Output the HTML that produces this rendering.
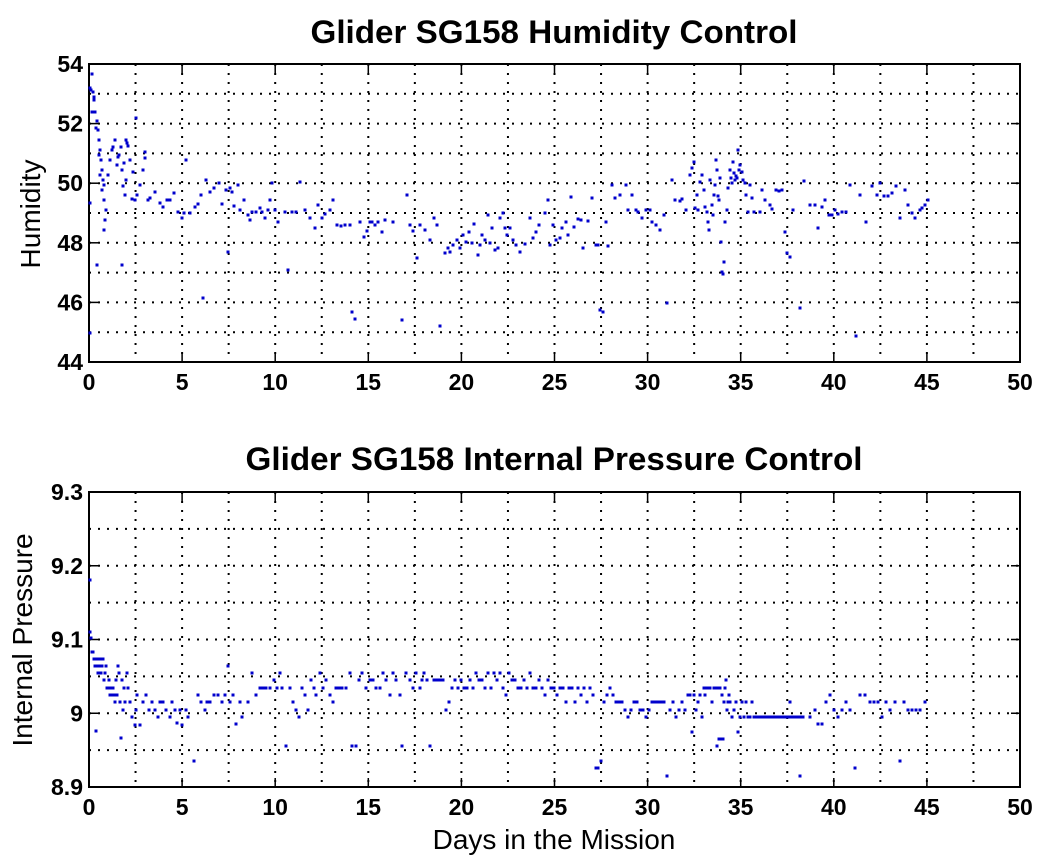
<!DOCTYPE html>
<html><head><meta charset="utf-8"><style>
html,body{margin:0;padding:0;background:#fff;}
svg{display:block;font-family:"Liberation Sans",Arial,sans-serif;}
</style></head><body>
<svg id="s" width="1041" height="862" viewBox="0 0 1041 862" xmlns="http://www.w3.org/2000/svg">
<rect width="1041" height="862" fill="#fff"/>
<g id="g"></g>
<text x="554" y="43" font-size="32" font-weight="bold" text-anchor="middle" textLength="487" lengthAdjust="spacingAndGlyphs">Glider SG158 Humidity Control</text>
<text x="554" y="470" font-size="32" font-weight="bold" text-anchor="middle" textLength="617" lengthAdjust="spacingAndGlyphs">Glider SG158 Internal Pressure Control</text>
<text transform="translate(40,214) rotate(-90)" font-size="28" text-anchor="middle">Humidity</text>
<text transform="translate(32,640) rotate(-90)" font-size="28" text-anchor="middle">Internal Pressure</text>
<text x="554" y="849" font-size="28" text-anchor="middle">Days in the Mission</text>
</svg>
<script>
var g=document.getElementById('g'),NS='http://www.w3.org/2000/svg';
function el(t,a,txt){var e=document.createElementNS(NS,t);for(var k in a)e.setAttribute(k,a[k]);if(txt!==undefined)e.textContent=txt;g.appendChild(e);return e;}
var L=89,R=1020;
function axes(T,B,ylabels,nMinor){
  var H=B-T,W=R-L;
  for(var i=1;i<20;i++){var x=L+W*i/20;el('line',{x1:x,y1:T,x2:x,y2:B,stroke:'#000','stroke-width':2,'stroke-dasharray':'2,7'});}
  for(var j=1;j<nMinor;j++){var y=T+H*j/nMinor;el('line',{x1:L,y1:y,x2:R,y2:y,stroke:'#000','stroke-width':2,'stroke-dasharray':'2,7'});}
  el('rect',{x:L,y:T,width:W,height:H,fill:'none',stroke:'#000','stroke-width':2});
  for(var i=0;i<=10;i++){var x=L+W*i/10;
    el('line',{x1:x,y1:B,x2:x,y2:B-9,stroke:'#000','stroke-width':1.5});
    el('line',{x1:x,y1:T,x2:x,y2:T+9,stroke:'#000','stroke-width':1.5});
    el('text',{x:x,y:B+28,'font-size':23,'font-weight':'bold','text-anchor':'middle'},String(i*5));}
  var n=ylabels.length-1;
  for(var j=0;j<=n;j++){var y=B-H*j/n;
    el('line',{x1:L,y1:y,x2:L+9,y2:y,stroke:'#000','stroke-width':1.5});
    el('line',{x1:R,y1:y,x2:R-9,y2:y,stroke:'#000','stroke-width':1.5});
    el('text',{x:L-6,y:y+8,'font-size':23,'font-weight':'bold','text-anchor':'end'},ylabels[j]);}
}
axes(64,362,['44','46','48','50','52','54'],10);
axes(492,787,['8.9','9','9.1','9.2','9.3'],8);
var top1=[[90,88],[91,90],[92,74],[93,92],[94,97],[95,112],[96,128],[97,121],[92,112],[94,100],[98,130],[99,140],[100,150],[99,155],[101,160],[102,170],[100,175],[103,180],[104,185],[102,190],[104,200],[106,210],[105,220],[104,230],[97,265],[90,203],[90,333],[108,175],[110,160],[112,150],[113,147],[115,140],[117,165],[118,157],[119,155],[121,147],[122,170],[123,186],[124,163],[125,195],[126,180],[127,143],[128,146],[130,160],[133,172],[135,200],[137,195],[132,199],[140,185],[143,170],[145,152],[148,200],[150,198],[136,118],[126,140],[122,265],[145,158],[155,192],[160,203],[163,207],[167,200],[170,200],[174,193],[178,212],[182,218],[184,213],[186,160],[190,213],[195,207],[198,204],[201,195],[203,298],[206,180],[210,192],[214,188],[219,183],[222,204],[226,190],[228,252],[230,188],[232,192],[234,206],[238,185],[240,210],[244,200],[248,215],[250,220],[252,212],[256,212],[260,208],[262,212],[265,218],[268,210],[270,200],[272,183],[275,210],[278,222],[285,212],[288,270],[292,212],[296,212],[300,182],[305,210],[310,218],[315,228],[318,205],[322,218],[325,214],[330,210],[333,200],[337,225],[341,226],[345,225],[350,225],[352,312],[355,319],[360,222],[364,237],[367,231],[370,222],[372,222],[375,225],[378,222],[382,232],[385,220],[393,222],[402,320],[407,195],[410,225],[413,231],[417,258],[420,225],[425,230],[430,240],[434,218],[437,225],[440,326],[445,253],[448,248],[450,252],[453,245],[457,240],[460,248],[463,235],[466,242],[469,232],[472,243],[474,224],[478,255],[480,245],[482,235],[485,240],[488,215],[490,243],[492,228],[495,250],[498,248],[500,218],[503,213],[505,228],[507,235],[510,228],[513,240],[516,245],[520,252],[525,244],[530,218],[533,238],[536,232],[539,225],[545,213],[548,200],[550,245],[553,225],[556,240],[560,238],[562,228],[566,222],[568,235],[571,197],[574,227],[578,219],[581,220],[583,248],[588,221],[592,198],[596,245],[598,245],[600,310],[603,312],[606,222],[608,246],[612,185],[615,198],[620,195],[626,185],[628,210],[632,195],[636,210],[638,212],[642,218],[646,210],[650,210],[652,222],[656,225],[660,230],[664,215],[667,303],[672,180],[675,200],[680,201],[682,199],[686,210],[690,175],[692,168],[694,162],[695,208],[697,195],[698,210],[700,182],[702,175],[704,190],[705,207],[707,212],[708,222],[709,230],[710,180],[712,205],[713,215],[714,195],[715,185],[716,160],[717,170],[718,196],[719,200],[720,178],[721,242],[722,272],[723,274],[724,262],[725,222],[727,210],[728,188],[730,170],[731,178],[732,183],[733,162],[734,173],[735,180],[736,176],[737,178],[738,150],[739,170],[740,165],[742,172],[743,180],[745,183],[746,195],[748,212],[750,185],[752,198],[754,212],[760,212],[762,190],[765,200],[770,205],[772,209],[776,190],[779,191],[782,190],[785,232],[787,253],[790,257],[793,210],[800,308],[804,181],[810,205],[815,205],[818,228],[822,207],[825,200],[829,215],[832,215],[835,210],[838,214],[842,212],[846,212],[850,185],[856,336],[860,195],[866,222],[872,186],[877,195],[880,183],[884,196],[888,196],[892,193],[896,186],[900,218],[905,190],[908,205],[912,213],[915,218],[920,210],[922,208],[925,205],[928,200]];
var bot=[[90,580],[90,632],[91,638],[92,652],[93,652],[94,659],[95,666],[96,666],[97,659],[98,673],[99,666],[100,659],[101,673],[102,666],[103,659],[104,680],[105,673],[106,666],[96,731],[107,688],[108,688],[109,680],[110,695],[111,688],[112,695],[113,688],[114,695],[115,702],[116,680],[117,695],[118,666],[119,673],[120,702],[121,738],[122,680],[123,710],[124,688],[125,702],[127,673],[128,688],[130,702],[132,717],[135,725],[136,710],[137,695],[140,725],[143,702],[146,695],[149,710],[152,702],[155,710],[158,717],[160,702],[163,702],[166,710],[170,717],[172,702],[175,710],[177,723],[180,710],[182,725],[186,710],[188,717],[194,761],[198,695],[201,702],[205,710],[207,702],[210,702],[214,695],[218,695],[222,702],[225,695],[228,666],[230,702],[233,695],[236,724],[240,702],[242,717],[248,702],[252,673],[256,695],[260,688],[263,688],[266,688],[270,688],[274,680],[277,688],[280,673],[282,688],[286,746],[290,688],[293,702],[296,710],[299,717],[302,688],[305,695],[308,710],[311,680],[314,688],[316,695],[320,673],[323,688],[326,680],[330,695],[333,702],[336,688],[339,688],[342,688],[346,688],[350,673],[352,746],[356,746],[359,680],[362,673],[366,688],[370,680],[373,680],[376,688],[380,688],[383,673],[386,680],[390,695],[393,673],[396,680],[400,695],[402,746],[406,673],[410,680],[413,688],[416,673],[420,688],[422,680],[424,673],[427,680],[430,746],[434,680],[437,680],[440,680],[443,680],[446,710],[449,702],[452,688],[455,680],[458,688],[461,680],[464,688],[467,688],[470,680],[473,688],[476,673],[479,680],[482,680],[485,688],[488,673],[491,688],[494,673],[497,680],[500,673],[503,688],[506,695],[509,673],[512,680],[515,680],[518,688],[521,688],[524,680],[527,688],[530,673],[533,688],[536,688],[539,680],[542,688],[545,695],[548,680],[551,688],[554,688],[557,695],[560,688],[563,688],[566,702],[569,688],[572,688],[575,702],[578,688],[581,695],[584,688],[587,702],[590,688],[593,695],[596,768],[598,768],[601,761],[604,702],[607,695],[610,688],[613,695],[616,702],[619,702],[622,702],[625,710],[628,717],[631,710],[634,702],[637,702],[640,710],[643,710],[646,717],[649,710],[652,702],[655,702],[658,702],[661,702],[664,702],[667,776],[670,710],[673,702],[676,717],[679,710],[682,702],[685,710],[688,695],[690,695],[692,732],[694,695],[696,710],[698,702],[700,695],[702,717],[704,688],[705,695],[706,688],[708,688],[710,688],[712,702],[714,688],[716,688],[717,746],[718,688],[719,739],[720,688],[721,739],[722,695],[723,739],[724,702],[725,688],[726,680],[727,710],[728,702],[729,695],[730,702],[732,717],[734,710],[736,702],[738,732],[740,717],[742,702],[744,717],[746,702],[748,717],[750,717],[752,702],[754,717],[756,717],[790,702],[800,776],[810,717],[815,710],[818,724],[822,724],[826,702],[830,695],[834,710],[838,717],[842,710],[846,702],[850,710],[855,768],[860,695],[865,695],[870,702],[874,702],[878,702],[882,717],[886,702],[890,710],[895,702],[900,761],[904,702],[908,710],[912,710],[916,710],[920,710],[925,702]];
for(var x=758;x<=804;x+=3)bot.push([x,717]);
top1.concat(bot).forEach(function(p){el('rect',{x:p[0]-1.5,y:p[1]-1.5,width:3,height:3,fill:'#0000cc'});});
</script>
</body></html>
